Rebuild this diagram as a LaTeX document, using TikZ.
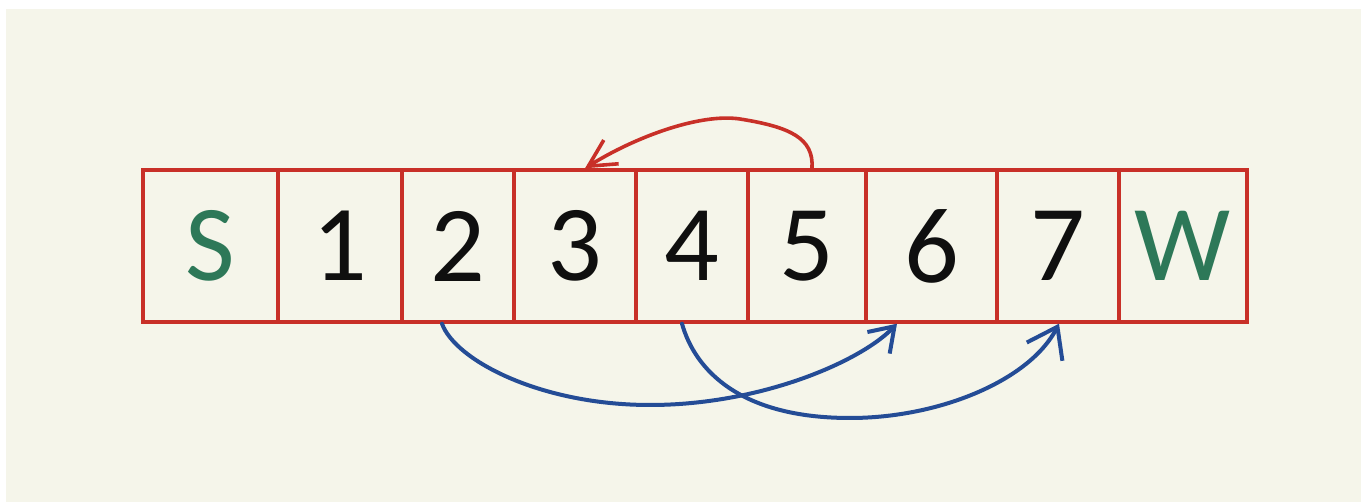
\documentclass[tikz,border=0pt]{standalone}
\usepackage{fontspec}
\newfontfamily\hand{Carlito}
\usetikzlibrary{arrows.meta}
\definecolor{cream}{RGB}{245,245,234}
\definecolor{cellred}{RGB}{200,48,40}
\definecolor{ink}{RGB}{15,15,15}
\definecolor{sgreen}{RGB}{45,120,88}
\definecolor{pblue}{RGB}{36,76,150}
\tikzset{
  cell/.style={draw=cellred, line width=3.4pt, minimum height=152pt, inner sep=0pt, font=\hand\fontsize{108}{108}\selectfont, text=ink},
  back/.style={draw=cellred, line width=3.6pt, line cap=round},
  jump/.style={draw=pblue, line width=4pt, line cap=round}
}
\begin{document}
\begin{tikzpicture}[x=1pt,y=-1pt]
\useasboundingbox (0,0) rectangle (1361,502);
\fill[white] (0,0) rectangle (1361,502);
\fill[cream] (6,9) rectangle (1361,502);
\node[cell, minimum width=135pt, text=sgreen] (c0) at (210.5,246) {S};
\node[cell, minimum width=124pt] (c1) at (340,246) {1};
\node[cell, minimum width=112pt] (c2) at (458,246) {2};
\node[cell, minimum width=122pt] (c3) at (575,246) {3};
\node[cell, minimum width=112pt] (c4) at (692,246) {4};
\node[cell, minimum width=118pt] (c5) at (807,246) {5};
\node[cell, minimum width=131pt] (c6) at (931.5,246) {6};
\node[cell, minimum width=122pt] (c7) at (1058,246) {7};
\node[cell, minimum width=128pt, text=sgreen] (c8) at (1183,246) {W};
% red back jump 5 -> 3
\draw[back, -{Straight Barb[length=27pt,width=28pt]}]
  ([xshift=5pt]c5.north) .. controls (814,138) and (790,127) .. (740,119)
  .. controls (700,113) and (635,137) .. ([xshift=10pt]c3.north);
% blue jumps
\draw[jump, -{Straight Barb[length=23pt,width=31pt]}]
  ([xshift=-16pt]c2.south) .. controls (455,360) and (540,405) .. (650,405)
  .. controls (760,405) and (860,362) .. ([xshift=-34.5pt]c6.south);
\draw[jump, -{Straight Barb[length=28pt,width=40pt]}]
  ([xshift=-10pt]c4.south) .. controls (695,370) and (740,418) .. (850,418)
  .. controls (940,418) and (1030,380) .. ([xshift=1pt]c7.south);
\end{tikzpicture}
\end{document}
